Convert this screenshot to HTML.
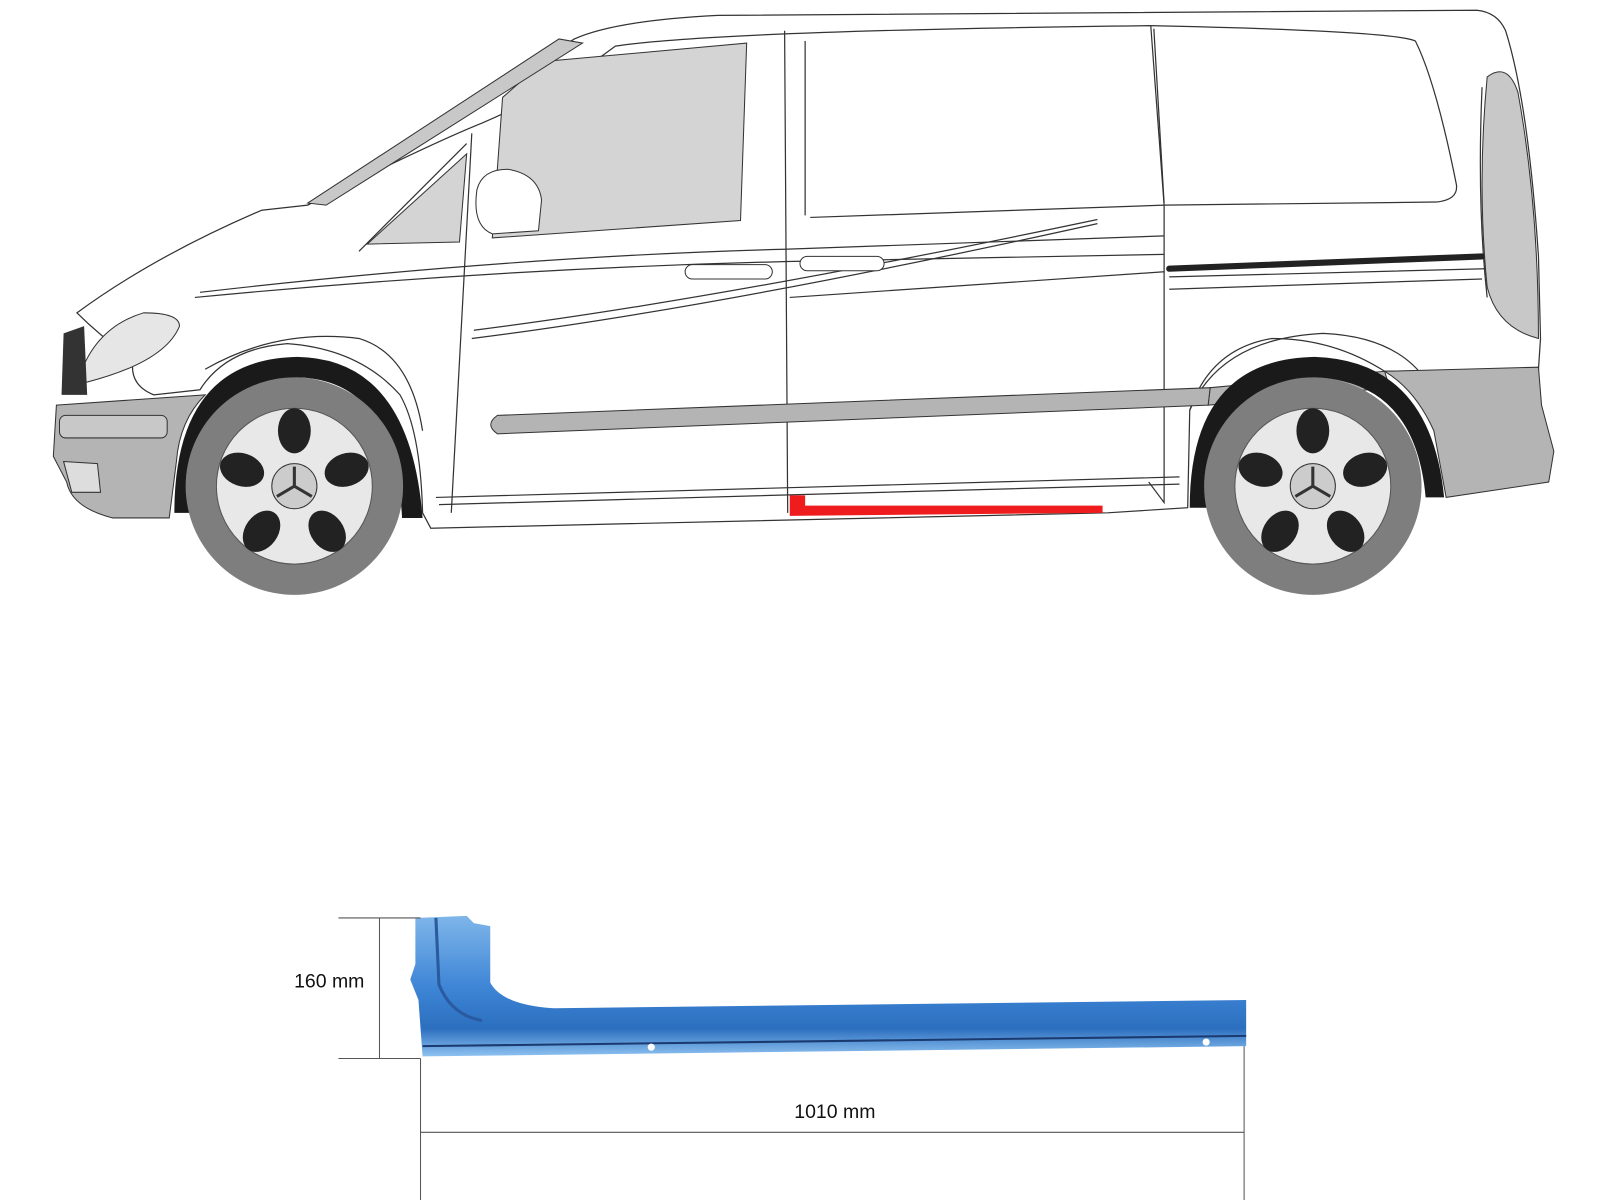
<!DOCTYPE html>
<html><head><meta charset="utf-8"><style>html,body{margin:0;padding:0;background:#fff;width:1600px;height:1200px;overflow:hidden}svg{display:block}</style></head>
<body>
<svg width="1600" height="1200" viewBox="0 0 1560 1170" xmlns="http://www.w3.org/2000/svg" font-family="Liberation Sans, sans-serif">
<defs>
<linearGradient id="bl" x1="0" y1="0" x2="0" y2="1">
<stop offset="0" stop-color="#7fb6ea"/><stop offset="0.5" stop-color="#3f86d6"/><stop offset="0.8" stop-color="#2c6fbf"/><stop offset="1" stop-color="#8ec2f0"/></linearGradient>
</defs>
<g stroke="#333" stroke-width="1.2" fill="none">
<!-- body outline -->
<path d="M75,305 Q150,250 255,205 L300,200 L560,38 Q600,20 700,15 L1440,10 Q1460,12 1468,30 Q1490,100 1500,250 L1502,330 L1500,360 L1350,362 Q1300,330 1240,330 Q1180,340 1160,400 L1158,495 L1080,500 L420,515 L412,500 Q410,420 390,385 Q350,340 280,335 Q220,340 195,380 L150,385 Q125,375 130,350 Q100,330 75,305 Z" fill="#fff"/>
<path d="M300,200 Q420,140 470,120 Q540,90 600,45 Q700,30 1120,25 Q1360,30 1380,40 Q1400,80 1420,180 Q1422,195 1400,197 L1135,200 L790,212"/>
<path d="M460,130 L440,500 M765,30 L768,500 M1122,25 L1135,200 L1135,490 L1120,470"/>
<path d="M785,40 L785,210 M1125,28 L1135,198"/>
<path d="M195,285 Q500,250 765,243 L1135,230 M190,290 Q480,262 768,255 L1135,248"/>
<path d="M460,330 Q700,300 1070,218 M462,322 Q700,292 1070,214"/>
<path d="M770,290 L1135,265 M1140,282 L1445,272 M1140,270 L1448,262"/>
<path d="M425,485 L1150,465 M428,492 L1150,472"/>
<path d="M200,360 Q270,320 350,330 Q400,345 412,420 M1160,400 Q1190,330 1290,325 Q1360,328 1390,370"/>
<path d="M350,245 L455,140 M1445,85 Q1440,200 1450,290"/>
</g>
<!-- windows -->
<polygon points="490,95 530,60 728,42 722,215 480,232" fill="#d4d4d4" stroke="#333"/>
<polygon points="358,238 455,150 448,236" fill="#d4d4d4" stroke="#333"/>
<polygon points="300,198 545,38 568,42 318,200" fill="#c8c8c8" stroke="#333"/>
<path d="M465,185 Q470,165 495,165 Q525,170 528,195 L525,225 L480,228 Q460,220 465,185 Z" fill="#fff" stroke="#333"/>
<!-- handles -->
<rect x="668" y="258" width="85" height="14" rx="7" fill="#fff" stroke="#333"/>
<rect x="780" y="250" width="82" height="14" rx="7" fill="#fff" stroke="#333"/>
<!-- rear strip -->
<path d="M1140,262 L1445,250" stroke="#222" stroke-width="6" stroke-linecap="round"/>
<!-- taillight -->
<path d="M1450,75 Q1470,60 1480,90 Q1500,200 1500,330 Q1460,320 1450,280 Q1440,180 1450,75 Z" fill="#c8c8c8" stroke="#333"/>
<!-- rub strip -->
<path d="M485,405 L1180,378 L1178,395 L485,423 Q472,414 485,405 Z" fill="#b4b4b4" stroke="#333"/>
<path d="M1180,378 L1350,362 L1355,378 L1178,395 Z" fill="#b4b4b4" stroke="#333"/>
<!-- front bumper -->
<path d="M55,395 L200,385 Q175,410 172,450 L165,505 L110,505 Q70,495 65,470 L52,445 Z" fill="#b4b4b4" stroke="#333"/>
<rect x="58" y="405" width="105" height="22" rx="6" fill="#c8c8c8" stroke="#333"/>
<path d="M62,450 L95,452 L98,480 L70,480 Z" fill="#ddd" stroke="#333"/>
<!-- headlight & grille -->
<path d="M75,375 Q90,320 140,305 Q175,305 175,318 Q160,355 75,375 Z" fill="#e6e6e6" stroke="#333"/>
<path d="M62,325 L82,318 L85,385 L60,385 Z" fill="#333"/>
<!-- rear bumper -->
<path d="M1350,362 L1500,358 L1503,395 L1515,440 L1510,470 L1410,485 L1398,420 Q1380,380 1350,362 Z" fill="#b4b4b4" stroke="#333"/>
<!-- wheel arches -->
<path d="M170,500 Q170,350 290,348 Q400,350 412,505 L392,505 Q385,370 290,368 Q190,370 188,500 Z" fill="#1a1a1a"/>
<path d="M1160,495 Q1160,350 1282,348 Q1395,352 1408,485 L1390,485 Q1380,372 1282,368 Q1182,372 1178,495 Z" fill="#1a1a1a"/>
<!-- red sill -->
<path d="M770,483 L785,483 L785,493 L1075,493 L1075,500 L770,503 Z" fill="#ee1c1c"/>
<!-- wheels -->
<g id="w">
<circle cx="287" cy="474" r="106" fill="#7e7e7e"/>
<circle cx="287" cy="474" r="76" fill="#e8e8e8" stroke="#555"/>
<g fill="#222">
<ellipse cx="287" cy="420" rx="16" ry="22"/>
<ellipse cx="338" cy="458" rx="16" ry="22" transform="rotate(72 338 458)"/>
<ellipse cx="319" cy="518" rx="16" ry="22" transform="rotate(144 319 518)"/>
<ellipse cx="255" cy="518" rx="16" ry="22" transform="rotate(216 255 518)"/>
<ellipse cx="236" cy="458" rx="16" ry="22" transform="rotate(288 236 458)"/>
</g>
<circle cx="287" cy="474" r="22" fill="#ccc" stroke="#333"/>
<path d="M287,455 L287,474 L270,484 M287,474 L304,484" stroke="#333" stroke-width="3" fill="none"/>
</g>
<use href="#w" x="993" y="0"/>
<!-- part -->
<path d="M405,895 L455,893 L462,900 L478,903 L478,958 Q490,980 540,983 L1215,975 L1215,1020 L412,1030 L408,975 L400,955 L405,940 Z" fill="url(#bl)"/>
<path d="M412,1020 L1215,1010" stroke="#1a3a70" stroke-width="2"/>
<path d="M425,895 L428,960 Q440,990 470,995" stroke="#2a5aa0" stroke-width="3" fill="none"/>
<circle cx="635" cy="1021" r="3.5" fill="#fff"/><circle cx="1176" cy="1016" r="3.5" fill="#fff"/>
<!-- dimensions -->
<g stroke="#555" stroke-width="1">
<line x1="330" y1="895" x2="410" y2="895"/><line x1="330" y1="1032" x2="410" y2="1032"/>
<line x1="370" y1="895" x2="370" y2="1032"/>
<line x1="410" y1="1032" x2="410" y2="1170"/><line x1="1213" y1="1020" x2="1213" y2="1170"/>
<line x1="410" y1="1104" x2="1213" y2="1104"/>
</g>
<text x="321" y="963" font-size="19" text-anchor="middle" fill="#111">160 mm</text>
<text x="814" y="1090" font-size="19" text-anchor="middle" fill="#111">1010 mm</text>
</svg>
</body></html>
